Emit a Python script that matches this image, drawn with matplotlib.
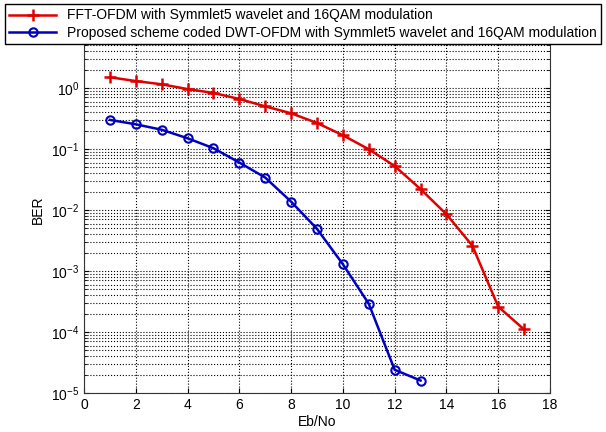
import matplotlib.pyplot as plt
import numpy as np
from matplotlib.ticker import LogLocator, NullFormatter

plt.rcParams['font.family'] = ['Liberation Sans', 'DejaVu Sans']

ebno_fft = [1, 2, 3, 4, 5, 6, 7, 8, 9, 10, 11, 12, 13, 14, 15, 16, 17]
ber_fft = [1.5, 1.3, 1.15, 0.96, 0.83, 0.66, 0.5, 0.385, 0.267, 0.168, 0.099,
           0.0526, 0.022, 0.0085, 0.0026, 2.6e-4, 1.1e-4]

ebno_dwt = [1, 2, 3, 4, 5, 6, 7, 8, 9, 10, 11, 12, 13]
ber_dwt = [0.30, 0.254, 0.207, 0.15, 0.103, 0.06, 0.034, 0.0137, 0.0049,
           1.29e-3, 2.9e-4, 2.4e-5, 1.6e-5]

labels = ["FFT-OFDM with Symmlet5 wavelet and 16QAM modulation",
          "Proposed scheme coded DWT-OFDM with Symmlet5 wavelet and 16QAM modulation"]
xticks = np.arange(0, 19, 2)
yticks = [1e-5, 1e-4, 1e-3, 1e-2, 1e-1, 1e0]

fig = plt.figure(figsize=(6.06, 4.32), dpi=100)
ax = fig.add_axes([0.1386, 0.0903, 0.769, 0.8472])

ax.semilogy(ebno_fft, ber_fft, '-+', color='#e00000', lw=1.8, ms=9, mew=1.8,
            label=labels[0])
ax.semilogy(ebno_dwt, ber_dwt, '-o', color='#0000c0', lw=1.8, ms=6, mew=1.5,
            mfc='none', label=labels[1])

ax.set_xlim(0, 18)
ax.set_ylim(1e-5, 10)
ax.set_xticks(xticks)
ax.set_yticks(yticks)
ax.yaxis.set_minor_locator(LogLocator(base=10, subs=np.arange(2, 10)))
ax.yaxis.set_minor_formatter(NullFormatter())
ax.tick_params(which='both', direction='in', top=True, right=True, labelsize=10)
ax.tick_params(which='minor', length=2)
ax.grid(True, which='major', ls=':', color='k', lw=0.8)
ax.grid(True, which='minor', axis='y', ls=':', color='k', lw=0.8)
for s in ax.spines.values():
    s.set_color('#333333')

ax.set_xlabel('Eb/No', fontsize=10, labelpad=2)
ax.set_ylabel('BER', fontsize=10)

leg = fig.legend(loc='upper left', bbox_to_anchor=(0.008, 0.99), fontsize=10,
                 fancybox=False, framealpha=1, edgecolor='k', handlelength=3.4,
                 borderpad=0.3, labelspacing=0.25, borderaxespad=0)
leg.get_frame().set_linewidth(1.0)

fig.savefig('out.png', dpi=100)
